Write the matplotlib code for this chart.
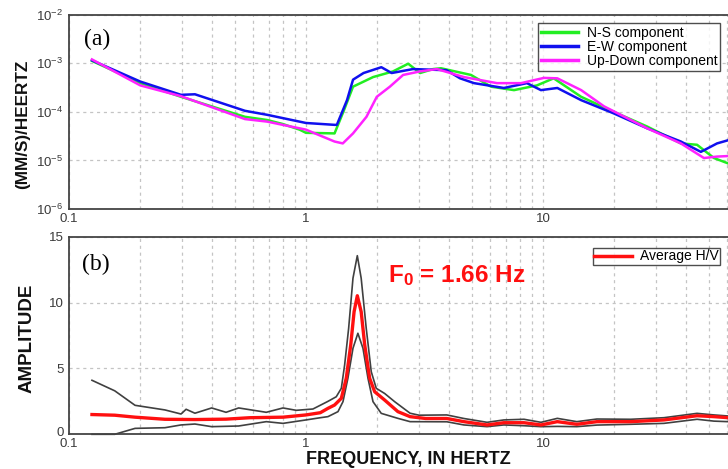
import numpy as np
import matplotlib
matplotlib.use("Agg")
import matplotlib.pyplot as plt
import matplotlib.transforms as mtransforms
from matplotlib.ticker import FixedLocator, NullFormatter

plt.rcParams['font.family'] = ['Liberation Sans', 'DejaVu Sans']
plt.rcParams['mathtext.fontset'] = 'custom'
plt.rcParams['mathtext.rm'] = 'Liberation Sans'
plt.rcParams['mathtext.bf'] = 'Liberation Sans:bold'
plt.rcParams['mathtext.it'] = 'Liberation Sans:italic'

# ---------------- data: panel (a) spectra ----------------
ns_freq = [0.125, 0.20, 0.297, 0.553, 0.685, 0.80, 0.94, 1.0, 1.32, 1.44, 1.58, 1.92,
           2.33, 2.70, 3.03, 3.44, 3.71, 4.97, 6.04, 7.55, 9.43, 11.1, 14.5, 19.9,
           27.5, 38.2, 44.7, 52.7, 60.4]
ns_vals = [1.12e-3, 3.9e-4, 2.04e-4, 7.9e-5, 6.8e-5, 5.6e-5, 4.3e-5, 3.7e-5, 3.6e-5,
           1.02e-4, 3.3e-4, 5.2e-4, 6.8e-4, 9.8e-4, 6.3e-4, 7.6e-4, 7.9e-4, 5.75e-4,
           3.3e-4, 2.8e-4, 3.5e-4, 4.9e-4, 2.04e-4, 1.0e-4, 5.0e-5, 2.24e-5, 2.1e-5,
           1.12e-5, 8.7e-6]

ew_freq = [0.125, 0.20, 0.297, 0.34, 0.553, 0.685, 1.0, 1.32, 1.35, 1.49, 1.58, 1.75,
           2.08, 2.30, 2.83, 3.92, 4.47, 5.12, 6.84, 8.56, 9.81, 11.5, 14.5, 19.9,
           27.5, 38.2, 46.4, 54.3, 60.4]
ew_vals = [1.15e-3, 4.2e-4, 2.24e-4, 2.3e-4, 1.05e-4, 8.7e-5, 5.9e-5, 5.4e-5, 5.4e-5,
           1.74e-4, 4.6e-4, 6.3e-4, 8.3e-4, 6.3e-4, 7.6e-4, 7.2e-4, 4.9e-4, 3.9e-4,
           3.1e-4, 3.9e-4, 2.8e-4, 3.1e-4, 1.74e-4, 9.3e-5, 4.6e-5, 2.45e-5, 1.5e-5,
           2.24e-5, 2.6e-5]

ud_freq = [0.125, 0.20, 0.297, 0.553, 0.685, 1.0, 1.32, 1.43, 1.58, 1.80, 1.99, 2.26,
           2.57, 3.03, 3.57, 4.64, 6.40, 8.08, 10.1, 11.5, 14.5, 18.1, 27.5, 38.2,
           47.8, 54.3, 60.4]
ud_vals = [1.2e-3, 3.5e-4, 2.1e-4, 7.1e-5, 6.3e-5, 4.3e-5, 2.45e-5, 2.24e-5, 3.6e-5,
           7.9e-5, 2.04e-4, 3.3e-4, 5.75e-4, 6.8e-4, 7.6e-4, 5.2e-4, 3.9e-4, 3.9e-4,
           5.0e-4, 4.9e-4, 2.8e-4, 1.3e-4, 4.6e-5, 2.24e-5, 1.12e-5, 1.2e-5, 1.23e-5]

# ---------------- data: panel (b) H/V ----------------
hv_freq = [0.125, 0.156, 0.19, 0.254, 0.34, 0.46, 0.58, 0.80, 1.0, 1.15, 1.238, 1.32,
           1.41, 1.479, 1.545, 1.596, 1.647, 1.71, 1.77, 1.857, 1.95, 2.148, 2.443,
           2.75, 3.2, 3.93, 4.64, 5.81, 6.84, 8.32, 9.81, 11.5, 13.9, 16.9, 23.5,
           32.4, 44.7, 52.7, 60.4]
hv_mean = [1.5, 1.45, 1.3, 1.14, 1.12, 1.15, 1.26, 1.3, 1.47, 1.64, 1.97, 2.22,
           2.73, 4.25, 6.78, 9.3, 10.52, 9.3, 6.78, 4.25, 3.23, 2.6, 1.72,
           1.34, 1.2, 1.2, 0.96, 0.71, 0.88, 0.88, 0.71, 0.96, 0.76, 0.96, 0.96,
           1.09, 1.41, 1.34, 1.26]

up_freq = [0.125, 0.156, 0.19, 0.254, 0.297, 0.312, 0.34, 0.40, 0.46, 0.52, 0.68, 0.80,
           0.91, 1.07, 1.238, 1.342, 1.41, 1.456, 1.514, 1.579, 1.647, 1.71, 1.796,
           1.886, 1.98, 2.148, 2.366, 2.75, 3.0, 3.93, 4.64, 5.81, 6.84, 8.32, 9.81,
           11.5, 13.9, 16.9, 23.5, 32.4, 44.7, 52.7, 60.4]
hv_upper = [4.1, 3.3, 2.2, 1.85, 1.54, 1.9, 1.6, 2.0, 1.67, 2.0, 1.67, 2.0,
            1.82, 1.92, 2.5, 2.85, 3.49, 5.26, 8.05, 11.85, 13.56, 11.85, 8.05,
            4.75, 3.49, 3.1, 2.48, 1.6, 1.45, 1.47, 1.2, 0.91, 1.09, 1.14, 0.91,
            1.21, 0.96, 1.16, 1.14, 1.26, 1.59, 1.47, 1.39]

lo_freq = [0.125, 0.156, 0.19, 0.254, 0.297, 0.34, 0.40, 0.52, 0.68, 0.80, 1.0, 1.15,
           1.238, 1.365, 1.433, 1.503, 1.579, 1.656, 1.74, 1.827, 1.918, 2.078, 2.443,
           2.75, 3.93, 4.64, 5.81, 6.84, 8.32, 9.81, 11.5, 13.9, 16.9, 23.5, 32.4,
           44.7, 52.7, 60.4]
hv_lower = [0.0, 0.0, 0.45, 0.5, 0.71, 0.78, 0.58, 0.63, 0.96, 0.83, 1.09, 1.26,
            1.34, 1.72, 2.48, 4.25, 6.53, 7.67, 6.53, 4.25, 2.48, 1.59, 1.21,
            0.96, 0.95, 0.71, 0.58, 0.71, 0.65, 0.58, 0.6, 0.58, 0.7, 0.76, 0.83,
            1.14, 1.0, 0.96]

x_ticks = [0.1, 1, 10]
x_tick_labels = ["0.1", "1", "10"]
a_y_ticks = [1e-6, 1e-5, 1e-4, 1e-3, 1e-2]
a_y_labels = [r"$10^{-6}$", r"$10^{-5}$", r"$10^{-4}$", r"$10^{-3}$", r"$10^{-2}$"]
b_y_ticks = [0, 5, 10, 15]
b_y_labels = ["0", "5", "10", "15"]

W, H = 728, 469
fig = plt.figure(figsize=(W / 100, H / 100), dpi=100)
fig.patch.set_facecolor('white')

def px_axes(x0, y0, x1, y1):
    return fig.add_axes([x0 / W, 1 - y1 / H, (x1 - x0) / W, (y1 - y0) / H])

xmax = 10 ** 1.781
grid_kw = dict(color='#c4c4c4', linestyle=(0, (2.5, 3)), linewidth=0.9)

def style(ax):
    ax.set_xscale('log')
    ax.set_xlim(0.1, xmax)
    minors = [m * d for d in (0.1, 1, 10) for m in range(2, 10)]
    ax.xaxis.set_major_locator(FixedLocator(x_ticks))
    ax.xaxis.set_minor_locator(FixedLocator(minors))
    ax.xaxis.set_minor_formatter(NullFormatter())
    ax.set_xticklabels(x_tick_labels)
    ax.grid(True, which='both', axis='x', **grid_kw)
    ax.grid(True, which='major', axis='y', **grid_kw)
    ax.tick_params(which='both', length=0, labelsize=9.5, colors='#3a3a3a', pad=4)
    ax.tick_params(axis='x', pad=3)
    for s in ('left', 'bottom', 'top'):
        ax.spines[s].set_color('#444444')
        ax.spines[s].set_linewidth(1.3)
    ax.spines['right'].set_visible(False)
    ax.set_axisbelow(True)

leg_kw = dict(loc='upper right', bbox_transform=fig.transFigure, fontsize=10,
              frameon=True, fancybox=False, edgecolor='#222222', handlelength=2.7,
              handletextpad=0.6, borderaxespad=0)

# ---- panel (a)
ax1 = px_axes(69, 14.7, 728, 209)
style(ax1)
ax1.set_yscale('log')
ax1.set_ylim(1e-6, 1e-2)
ax1.yaxis.set_major_locator(FixedLocator(a_y_ticks))
ax1.yaxis.set_minor_locator(FixedLocator([]))
ax1.set_yticklabels(a_y_labels)
ax1.plot(ns_freq, ns_vals, color='#22ee22', lw=1.8, label='N-S component')
ax1.plot(ew_freq, ew_vals, color='#1010ee', lw=1.8, label='E-W component')
ax1.plot(ud_freq, ud_vals, color='#ff22ff', lw=1.8, label='Up-Down component')
leg1 = ax1.legend(bbox_to_anchor=(720 / W, 1 - 23 / H), borderpad=0.2,
                  labelspacing=0.0, **leg_kw)
leg1.get_frame().set_linewidth(1.0)
for l in leg1.get_lines():
    l.set_linewidth(2.5)

# ---- panel (b)
ax2 = px_axes(69, 236.7, 728, 434.3)
style(ax2)
ax2.set_ylim(0, 15)
ax2.yaxis.set_major_locator(FixedLocator(b_y_ticks))
ax2.set_yticklabels(b_y_labels)
# lift the "0" label a little so it sits just above the "0.1" label
zero_lbl = ax2.get_yticklabels()[0]
zero_lbl.set_transform(zero_lbl.get_transform() +
                       mtransforms.ScaledTranslation(0, 3 / 100, fig.dpi_scale_trans))
ax2.plot(up_freq, hv_upper, color='#404040', lw=1.2)
ax2.plot(lo_freq, hv_lower, color='#404040', lw=1.2, clip_on=False)
ax2.plot(hv_freq, hv_mean, color='#ff1010', lw=2.4, label='Average H/V')
leg2 = ax2.legend(bbox_to_anchor=(720 / W, 1 - 248 / H), borderpad=0.1, **leg_kw)
leg2.get_frame().set_linewidth(1.0)
for l in leg2.get_lines():
    l.set_linewidth(2.5)

fig.text(97 / W, 1 - 39 / H, "(a)", fontsize=17, family='Liberation Serif',
         ha='center', va='center')
fig.text(96 / W, 1 - 264 / H, "(b)", fontsize=17, family='Liberation Serif',
         ha='center', va='center')
fig.text(388 / W, 1 - 276 / H, r"F$_\mathbf{0}$ = 1.66 Hz", fontsize=17.5,
         fontweight='bold', color='#ff1010', ha='left', va='center')

fig.text(23 / W, 1 - 124 / H, "(MM/S)/HEERTZ", rotation=90, fontsize=12.3,
         fontweight='bold', ha='center', va='center', color='#111111')
fig.text(27 / W, 1 - 338 / H, "AMPLITUDE", rotation=90, fontsize=13.5,
         fontweight='bold', ha='center', va='center', color='#111111')
fig.text(408 / W, 1 - 464 / H, "FREQUENCY, IN HERTZ", fontsize=13,
         fontweight='bold', ha='center', va='baseline', color='#111111')

fig.savefig("out.png", dpi=100, facecolor='white')
